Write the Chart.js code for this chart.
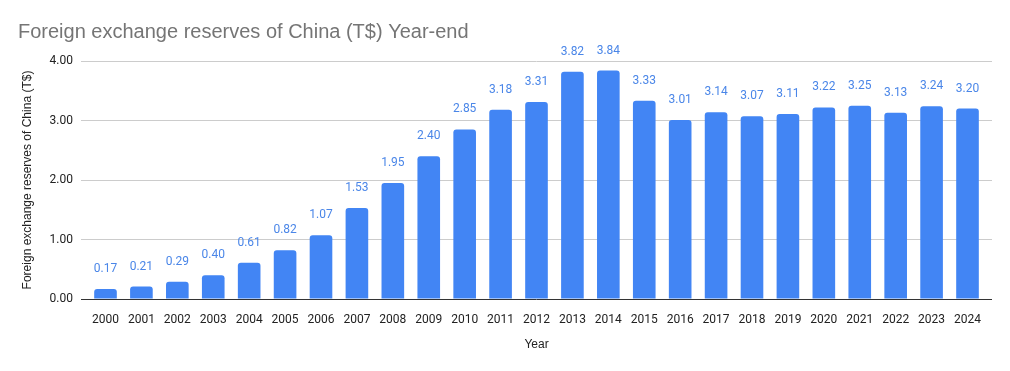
<!DOCTYPE html>
<html>
<head>
<meta charset="utf-8">
<script src="https://cdn.jsdelivr.net/npm/chart.js@4"></script>
<style>
  html, body { margin: 0; padding: 0; background: #fff; }
  #wrap { width: 1010px; height: 371px; }
</style>
</head>
<body>
<div id="wrap"><canvas id="chart" width="1010" height="371"></canvas></div>
<script>
// Data
const years = ["2000", "2001", "2002", "2003", "2004", "2005", "2006", "2007", "2008", "2009",
  "2010", "2011", "2012", "2013", "2014", "2015", "2016", "2017", "2018", "2019",
  "2020", "2021", "2022", "2023", "2024"];
const reserves = [0.17, 0.21, 0.29, 0.40, 0.61, 0.82, 1.07, 1.53, 1.95, 2.40,
  2.85, 3.18, 3.31, 3.82, 3.84, 3.33, 3.01, 3.14, 3.07, 3.11,
  3.22, 3.25, 3.13, 3.24, 3.20];
const yTicks = [0, 1, 2, 3, 4];

const barBlue = "#4285f4";

// Value labels above each bar
const valueLabels = {
  id: "valueLabels",
  afterDatasetsDraw(chart) {
    const ctx = chart.ctx;
    const meta = chart.getDatasetMeta(0);
    ctx.save();
    ctx.font = "12px Roboto";
    ctx.fillStyle = "#4a86e8";
    ctx.textAlign = "center";
    ctx.textBaseline = "middle";
    meta.data.forEach((bar, i) => {
      ctx.fillText(reserves[i].toFixed(2), bar.x, bar.y - 20);
    });
    ctx.restore();
  },
};

// x is a linear index axis so the grid runs a little past the outer bars
const points = reserves.map((v, i) => ({ x: i, y: v }));

const chart = new Chart(document.getElementById("chart"), {
  type: "bar",
  data: {
    datasets: [
      {
        label: "Foreign exchange reserves of China (T$)",
        data: points,
        backgroundColor: barBlue,
        borderRadius: { topLeft: 3, topRight: 3 },
        categoryPercentage: 1,
        barPercentage: 0.63,
      },
    ],
  },
  options: {
    responsive: false,
    animation: false,
    layout: { padding: { left: 18, right: 18, top: 0, bottom: 0 } },
    plugins: {
      legend: { display: false },
      tooltip: { enabled: false },
      title: {
        display: true,
        text: "Foreign exchange reserves of China (T$) Year-end",
        align: "start",
        color: "#757575",
        font: { family: "Liberation Sans", size: 20, weight: "normal" },
        padding: { top: 20, bottom: 17 },
      },
    },
    scales: {
      x: {
        type: "linear",
        offset: false,
        min: -0.682,
        max: years.length - 1 + 0.682,
        afterBuildTicks(scale) { scale.ticks = years.map((_, i) => ({ value: i })); },
        grid: { display: false, offset: false },
        border: { display: false },
        ticks: {
          color: "#222",
          font: { family: "Roboto", size: 12 },
          padding: 6,
          maxRotation: 0,
          autoSkip: false,
          callback: (v) => years[v],
        },
        title: {
          display: true,
          text: "Year",
          color: "#222",
          font: { family: "Liberation Sans", size: 12 },
          padding: { top: 0, bottom: 19 },
        },
        afterFit(scale) { scale.height = 72; },
      },
      y: {
        min: 0,
        max: 4,
        afterBuildTicks(scale) { scale.ticks = yTicks.map((v) => ({ value: v })); },
        grid: {
          color: (c) => (c.tick && c.tick.value === 0 ? "#333" : "#cccccc"),
          drawTicks: false,
        },
        border: { display: false },
        ticks: {
          color: "#222",
          font: { family: "Roboto", size: 12 },
          padding: 8,
          callback: (v) => Number(v).toFixed(2),
        },
        title: {
          display: true,
          text: "Foreign exchange reserves of China (T$)",
          color: "#222",
          font: { family: "Liberation Sans", size: 12 },
          padding: { top: 2, bottom: 0 },
        },
        afterFit(scale) { scale.width = 63; },
      },
    },
  },
  plugins: [valueLabels],
});
</script>
</body>
</html>
